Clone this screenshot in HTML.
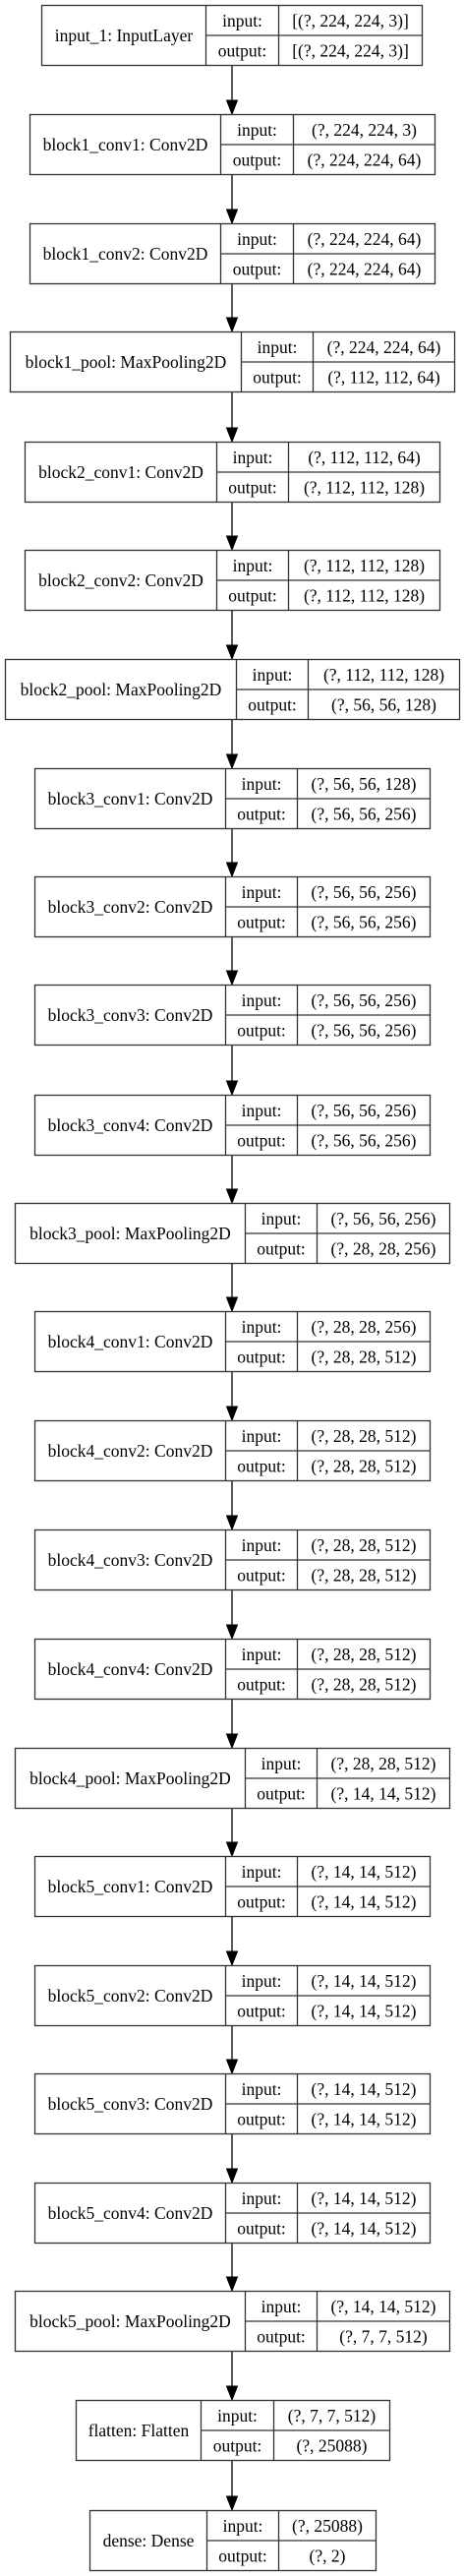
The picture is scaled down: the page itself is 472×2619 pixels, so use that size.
<!DOCTYPE html>
<html><head><meta charset="utf-8"><style>
html,body{margin:0;padding:0;background:#fff;}
svg{display:block;}
text{font-family:"Liberation Serif","Times New Roman",serif;font-size:17.5px;fill:#000;}
</style></head><body>
<svg id="s" width="472" height="2619" xmlns="http://www.w3.org/2000/svg"></svg>
<script>
var N=[
["input_1: InputLayer",42,209,283,429,5,"[(?, 224, 224, 3)]","[(?, 224, 224, 3)]"],
["block1_conv1: Conv2D",30,224,298,442,116,"(?, 224, 224, 3)","(?, 224, 224, 64)"],
["block1_conv2: Conv2D",30,224,298,442,227,"(?, 224, 224, 64)","(?, 224, 224, 64)"],
["block1_pool: MaxPooling2D",10,245,318,462,337,"(?, 224, 224, 64)","(?, 112, 112, 64)"],
["block2_conv1: Conv2D",25,220,293,447,449,"(?, 112, 112, 64)","(?, 112, 112, 128)"],
["block2_conv2: Conv2D",25,220,293,447,559,"(?, 112, 112, 128)","(?, 112, 112, 128)"],
["block2_pool: MaxPooling2D",5,240,313,467,670,"(?, 112, 112, 128)","(?, 56, 56, 128)"],
["block3_conv1: Conv2D",35,229,302,437,781,"(?, 56, 56, 128)","(?, 56, 56, 256)"],
["block3_conv2: Conv2D",35,229,302,437,891,"(?, 56, 56, 256)","(?, 56, 56, 256)"],
["block3_conv3: Conv2D",35,229,302,437,1001,"(?, 56, 56, 256)","(?, 56, 56, 256)"],
["block3_conv4: Conv2D",35,229,302,437,1113,"(?, 56, 56, 256)","(?, 56, 56, 256)"],
["block3_pool: MaxPooling2D",15,249,322,457,1223,"(?, 56, 56, 256)","(?, 28, 28, 256)"],
["block4_conv1: Conv2D",35,229,302,437,1333,"(?, 28, 28, 256)","(?, 28, 28, 512)"],
["block4_conv2: Conv2D",35,229,302,437,1444,"(?, 28, 28, 512)","(?, 28, 28, 512)"],
["block4_conv3: Conv2D",35,229,302,437,1555,"(?, 28, 28, 512)","(?, 28, 28, 512)"],
["block4_conv4: Conv2D",35,229,302,437,1666,"(?, 28, 28, 512)","(?, 28, 28, 512)"],
["block4_pool: MaxPooling2D",15,249,322,457,1777,"(?, 28, 28, 512)","(?, 14, 14, 512)"],
["block5_conv1: Conv2D",35,229,302,437,1887,"(?, 14, 14, 512)","(?, 14, 14, 512)"],
["block5_conv2: Conv2D",35,229,302,437,1998,"(?, 14, 14, 512)","(?, 14, 14, 512)"],
["block5_conv3: Conv2D",35,229,302,437,2108,"(?, 14, 14, 512)","(?, 14, 14, 512)"],
["block5_conv4: Conv2D",35,229,302,437,2219,"(?, 14, 14, 512)","(?, 14, 14, 512)"],
["block5_pool: MaxPooling2D",15,249,322,457,2329,"(?, 14, 14, 512)","(?, 7, 7, 512)"],
["flatten: Flatten",77,204,278,396,2440,"(?, 7, 7, 512)","(?, 25088)"],
["dense: Dense",91,210,283,382,2552,"(?, 25088)","(?, 2)"]
];
var H=61,o='';
for(var i=0;i<N.length;i++){
 var n=N[i],a=n[1]+.5,b=n[2]+.5,c=n[3]+.5,d=n[4]+.5,y=n[5]+.5,m=y+H/2;
 o+='<rect x="'+a+'" y="'+y+'" width="'+(d-a)+'" height="'+H+'" fill="#fff" stroke="#333" stroke-width="1.3"/>';
 o+='<line x1="'+b+'" y1="'+y+'" x2="'+b+'" y2="'+(y+H)+'" stroke="#333" stroke-width="1.3"/>';
 o+='<line x1="'+c+'" y1="'+y+'" x2="'+c+'" y2="'+(y+H)+'" stroke="#333" stroke-width="1.3"/>';
 o+='<line x1="'+b+'" y1="'+m+'" x2="'+d+'" y2="'+m+'" stroke="#333" stroke-width="1.3"/>';
 o+='<text x="'+((a+b)/2)+'" y="'+(m+6)+'" text-anchor="middle">'+n[0]+'</text>';
 o+='<text x="'+((b+c)/2)+'" y="'+(y+H/4+6)+'" text-anchor="middle">input:</text>';
 o+='<text x="'+((b+c)/2)+'" y="'+(y+3*H/4+6)+'" text-anchor="middle">output:</text>';
 o+='<text x="'+((c+d)/2)+'" y="'+(y+H/4+6)+'" text-anchor="middle">'+n[6]+'</text>';
 o+='<text x="'+((c+d)/2)+'" y="'+(y+3*H/4+6)+'" text-anchor="middle">'+n[7]+'</text>';
 if(i<N.length-1){
  var y1=n[5]+H+1,y2=N[i+1][5];
  o+='<line x1="236" y1="'+y1+'" x2="236" y2="'+(y2-13)+'" stroke="#333" stroke-width="1.6"/>';
  o+='<polygon points="230.5,'+(y2-14)+' 241.5,'+(y2-14)+' 236,'+(y2)+'" fill="#000" stroke="#000"/>';
 }
}
document.getElementById('s').innerHTML=o;
</script>
</body></html>
